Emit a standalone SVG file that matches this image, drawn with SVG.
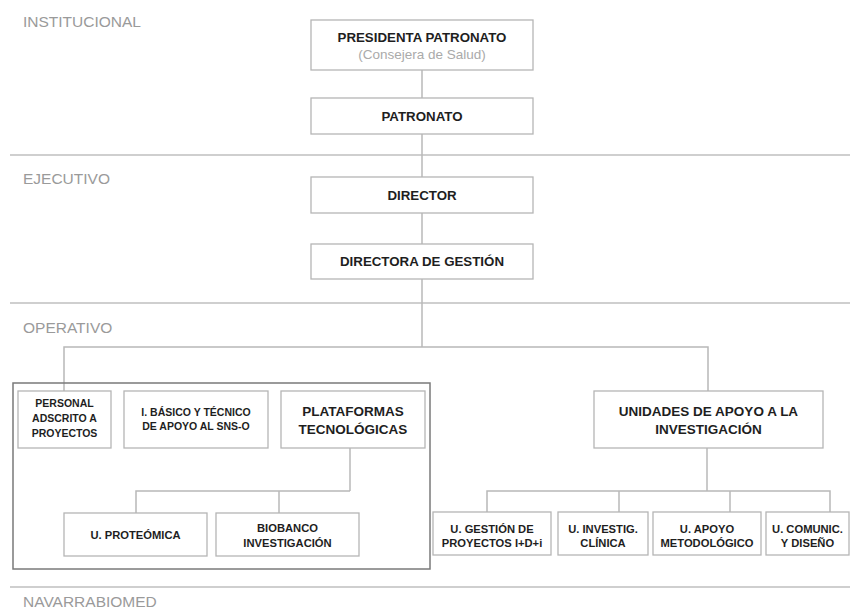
<svg xmlns="http://www.w3.org/2000/svg" width="850" height="611" viewBox="0 0 850 611">
<style>
.bg{fill:#ffffff}
.sep{stroke:#cfcfcf;stroke-width:2;fill:none}
.lvl{font-family:"Liberation Sans",Arial,sans-serif;font-size:15.5px;fill:#9a9a9a}
.box{fill:#ffffff;stroke:#b5b5b5;stroke-width:1.3}
.outer{fill:none;stroke:#7a7a7a;stroke-width:1.5}
.con{stroke:#b8b8b8;stroke-width:1.5;fill:none}
.t{font-family:"Liberation Sans",Arial,sans-serif;font-weight:bold;font-size:13.3px;fill:#1e1e1e;text-anchor:middle}
.s{font-family:"Liberation Sans",Arial,sans-serif;font-weight:bold;font-size:10.5px;fill:#1e1e1e;text-anchor:middle}
.b{font-family:"Liberation Sans",Arial,sans-serif;font-weight:bold;font-size:11.2px;fill:#1e1e1e;text-anchor:middle}
.l{font-family:"Liberation Sans",Arial,sans-serif;font-weight:bold;font-size:13.5px;fill:#1e1e1e;text-anchor:middle}
.sub{font-family:"Liberation Sans",Arial,sans-serif;font-size:13.5px;fill:#aaaaaa;text-anchor:middle}
</style>
<rect class="bg" x="0" y="0" width="850" height="611"/>
<g id="levels">
<line class="sep" x1="10" y1="155" x2="850" y2="155"/>
<line class="sep" x1="10" y1="303" x2="850" y2="303"/>
<line class="sep" x1="10" y1="587" x2="850" y2="587"/>
<text class="lvl" x="23" y="27">INSTITUCIONAL</text>
<text class="lvl" x="23" y="184">EJECUTIVO</text>
<text class="lvl" x="23" y="333">OPERATIVO</text>
<text class="lvl" x="23" y="607">NAVARRABIOMED</text>
</g>
<g id="connectors">
<line class="con" x1="422" y1="70" x2="422" y2="98"/>
<line class="con" x1="422" y1="134" x2="422" y2="177"/>
<line class="con" x1="422" y1="213" x2="422" y2="244"/>
<line class="con" x1="422" y1="279" x2="422" y2="347"/>
<polyline class="con" points="64,391 64,347 708,347 708,391"/>
<polyline class="con" points="350,448 350,491"/>
<polyline class="con" points="136,513 136,491 350,491"/>
<line class="con" x1="279" y1="491" x2="279" y2="513"/>
<line class="con" x1="707" y1="448" x2="707" y2="491"/>
<polyline class="con" points="487,512 487,491 830,491 830,512"/>
<line class="con" x1="619" y1="491" x2="619" y2="512"/>
<line class="con" x1="730" y1="491" x2="730" y2="512"/>
</g>
<g id="grupo-plataformas">
<rect class="outer" x="13" y="383" width="417" height="186"/>
</g>
<g id="presidenta">
<rect class="box" x="311" y="20" width="222" height="50"/>
<text class="t" x="422" y="42">PRESIDENTA PATRONATO</text>
<text class="sub" x="422" y="59">(Consejera de Salud)</text>
</g>
<g id="patronato">
<rect class="box" x="311" y="98" width="222" height="36"/>
<text class="t" x="422" y="121">PATRONATO</text>
</g>
<g id="director">
<rect class="box" x="311" y="177" width="222" height="36"/>
<text class="t" x="422" y="200">DIRECTOR</text>
</g>
<g id="directora">
<rect class="box" x="311" y="244" width="222" height="35"/>
<text class="t" x="422" y="266">DIRECTORA DE GESTIÓN</text>
</g>
<g id="personal">
<rect class="box" x="18" y="391" width="93" height="57"/>
<text class="s" x="64.5" y="407">PERSONAL</text>
<text class="s" x="64.5" y="422">ADSCRITO A</text>
<text class="s" x="64.5" y="437">PROYECTOS</text>
</g>
<g id="basico">
<rect class="box" x="124" y="391" width="144" height="57"/>
<text class="s" x="196" y="416">I. BÁSICO Y TÉCNICO</text>
<text class="s" x="196" y="430">DE APOYO AL SNS-O</text>
</g>
<g id="plataformas">
<rect class="box" x="281" y="391" width="144" height="57"/>
<text class="l" x="353" y="416">PLATAFORMAS</text>
<text class="l" x="353" y="434">TECNOLÓGICAS</text>
</g>
<g id="proteomica">
<rect class="box" x="64" y="513" width="143" height="43"/>
<text class="b" x="135.5" y="539">U. PROTEÓMICA</text>
</g>
<g id="biobanco">
<rect class="box" x="216" y="513" width="143" height="43"/>
<text class="b" x="287.5" y="532">BIOBANCO</text>
<text class="b" x="287.5" y="547">INVESTIGACIÓN</text>
</g>
<g id="unidades">
<rect class="box" x="594" y="391" width="229" height="57"/>
<text class="l" x="708.5" y="416">UNIDADES DE APOYO A LA</text>
<text class="l" x="708.5" y="434">INVESTIGACIÓN</text>
</g>
<g id="gestion">
<rect class="box" x="433" y="512" width="118" height="43"/>
<text class="b" x="492" y="533">U. GESTIÓN DE</text>
<text class="b" x="492" y="547">PROYECTOS I+D+i</text>
</g>
<g id="investig">
<rect class="box" x="558" y="512" width="90" height="43"/>
<text class="b" x="603" y="533">U. INVESTIG.</text>
<text class="b" x="603" y="547">CLÍNICA</text>
</g>
<g id="apoyo">
<rect class="box" x="653" y="512" width="108" height="43"/>
<text class="b" x="707" y="533">U. APOYO</text>
<text class="b" x="707" y="547">METODOLÓGICO</text>
</g>
<g id="comunic">
<rect class="box" x="766" y="512" width="83" height="43"/>
<text class="b" x="807.5" y="533">U. COMUNIC.</text>
<text class="b" x="807.5" y="547">Y DISEÑO</text>
</g>
</svg>
